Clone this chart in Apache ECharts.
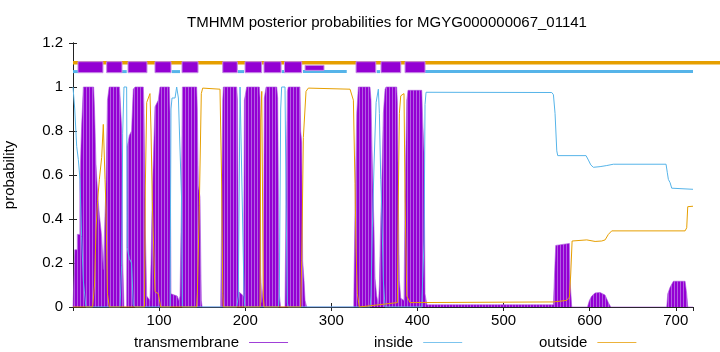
<!DOCTYPE html>
<html><head><meta charset="utf-8">
<script src="https://cdn.jsdelivr.net/npm/echarts@6/dist/echarts.min.js"></script>
<style>html,body{margin:0;padding:0;background:#fff}#c{width:720px;height:352px}</style>
</head><body><div id="c"></div>
<script>
// ---- data (residue, probability) ----
const titleText = 'TMHMM posterior probabilities for MGYG000000067_01141';
const seriesNames = ['transmembrane', 'inside', 'outside'];
const xRange = [0, 720];
const yRange = [0, 1.2];

const tmProb = [
[0,0],[1.9,0],[2,0.26],[5,0.26],[5,0.33],[8,0.33],[8,0.57],[10,0.57],[10,0.82],[12,0.82],[12,1.0],[24,1.0],[25,0.9],[26.7,0.65],[28.5,0.52],[30.6,0.42],[33.3,0.32],[35.2,0.17],[37.2,0.42],[38.3,0.55],[40,0.94],[42,1.0],[54,1.0],[54.6,0.96],[56.5,0.81],[57.7,0.21],[59.2,0],[62.3,0],[63,0.73],[65.4,0.78],[68,0.8],[70,0.99],[72,1.0],[81.7,1.0],[82.4,0.91],[84,0.35],[85.6,0.05],[89.4,0.03],[90.6,0.2],[92.1,0.52],[94.1,0.52],[95.2,0.91],[99,0.94],[101,1.0],[111.9,1.0],[112.7,0.88],[113.8,0.06],[121,0.05],[123,0.03],[124.3,0.05],[126,0.5],[127,1.0],[143.6,1.0],[144.4,0.9],[145.5,0.55],[147.5,0.5],[149,0.03],[150,0],[171.5,0],[172.7,0.45],[173.9,0.94],[174.6,1.0],[190.1,1.0],[191,0.94],[192.4,0.07],[198,0.05],[199,0.94],[201.7,1.0],[216.4,1.0],[217.2,0.95],[218,0.15],[219.2,0.02],[220.5,0.02],[221,0.1],[222.2,0.95],[224.2,1.0],[236.6,1.0],[237.7,0.95],[239.6,0.06],[241,0],[246.2,0],[247.4,0.5],[248.9,0.98],[250,1.0],[263.6,1.0],[264.4,0.8],[265.6,0.75],[266.7,0.21],[268.3,0.12],[269.5,0.03],[271.4,0],[326,0],[327.5,0.44],[329.5,0.88],[331.4,1.0],[344.9,1.0],[346.1,0.94],[347.6,0.65],[349.6,0.35],[350.8,0.13],[352.7,0.05],[354.7,0.01],[355.8,0.1],[357.4,0.4],[358.5,0.55],[360.4,0.88],[362.4,0.99],[363.5,1.0],[375.9,1.0],[376.7,0.93],[377.8,0.5],[379,0.12],[380.6,0.04],[384.4,0.03],[385.6,0.5],[387.6,0.94],[389,0.985],[405,0.985],[406.1,0.85],[407.7,0.7],[408.8,0.06],[411,0.01],[557.9,0.01],[559,0.13],[560.6,0.28],[561.8,0.289],[576.5,0.289],[577.2,0.12],[579.2,0],[597.4,0],[599.7,0.03],[602.4,0.05],[606.3,0.064],[612.1,0.066],[617.9,0.054],[621.7,0.02],[624.5,0],[689.5,0],[690.7,0.06],[693.4,0.09],[697.2,0.117],[710.8,0.117],[712.7,0.06],[713.9,0],[720,0]
];

const insideProb = [
[0,1.0],[1.2,1.0],[2,0.9],[4.3,0.73],[6.2,0.67],[8.1,0.58],[10,0.32],[12,0.12],[15,0],[54.6,0],[56.5,0.19],[57.7,0.79],[59.2,1.0],[62.3,1.0],[63,0.27],[65.4,0.22],[68,0.2],[70,0.01],[72,0],[112.7,0],[113.8,0.9],[115,0.95],[118.5,0.95],[120.4,1.0],[122.4,0.95],[124.3,0.95],[126,0.5],[127,0],[190.1,0],[192,0.05],[194,1.0],[195.9,1.0],[198.6,0.06],[199.5,0],[238.5,0],[239.6,0.05],[241.2,0.9],[242.3,1.0],[246.2,1.0],[247.4,0.5],[248.9,0.02],[250,0],[345,0],[346.1,0.05],[347.6,0.35],[349.6,0.65],[352,0.93],[354.6,0.99],[355.8,0.88],[357.4,0.58],[358.5,0.45],[360.4,0.12],[362.4,0],[405,0],[406.1,0.13],[407.7,0.3],[408.8,0.92],[410,0.976],[556,0.975],[557.9,0.965],[559.8,0.88],[561.8,0.71],[562.9,0.688],[595.8,0.688],[598.5,0.668],[601.3,0.646],[604.3,0.635],[612.1,0.638],[619.9,0.643],[627.5,0.649],[688.7,0.649],[690.2,0.61],[691.4,0.58],[693.4,0.565],[695.3,0.54],[697.2,0.535],[720,0.535]
];

const outsideProb = [
[0,0],[22.8,0],[25,0.1],[26.7,0.35],[28.5,0.48],[30.6,0.58],[33.3,0.68],[35.2,0.83],[37.2,0.58],[38.3,0.45],[40,0.06],[42.2,0],[83,0],[84,0.55],[85.6,0.93],[89.4,0.97],[90.6,0.8],[92.1,0.48],[94.1,0.48],[95.2,0.07],[99.1,0.06],[101.8,0],[143.6,0],[144.4,0.06],[146.7,0.46],[149,0.97],[150.6,0.995],[170.7,0.99],[172.7,0.55],[173.9,0.06],[174.6,0],[217.2,0],[218,0.85],[219.2,0.98],[220.5,0.98],[221,0.05],[222,0],[264.4,0],[265.6,0.21],[267.5,0.77],[270.6,0.98],[273.3,0.995],[321.7,0.99],[323.7,0.985],[325.6,0.94],[327.5,0.56],[328.7,0.26],[330.2,0.06],[332.5,0],[376.7,0.02],[377.8,0.5],[379,0.88],[380.6,0.96],[384.4,0.97],[385.6,0.5],[387.6,0.05],[391.4,0.02],[557.9,0.023],[573.4,0.03],[576.5,0.045],[578,0.15],[579.6,0.3],[581.1,0.307],[596.6,0.305],[606.3,0.298],[614,0.3],[617.9,0.305],[621.7,0.33],[625.6,0.346],[710.8,0.346],[712.7,0.36],[713.9,0.456],[720,0.458]
];

// predicted topology (residue ranges) and their levels
const topoOutsideSegments = [[0, 760]];
const topoInsideSegments = [[0,6.2],[56.6,62.4],[114.6,124.3],[191.6,198.6],[242.4,246.2],[267.1,317.9],[352.7,356.6],[408.8,720]];
const topoTmSegments = [[5.8,34.8],[39.1,56.9],[63.9,85.9],[95.2,113.8],[126.6,145.2],[173.9,190.8],[199.8,219.1],[221.8,241.6],[245.6,265.6],[328.7,351.6],[357.7,380.6],[385.6,408.8]];
const topoTmThinSegments = [[269.5,291.5]];
const levelOutside = 1.11, levelTm = 1.09, levelInside = 1.07, levelTmThin = 1.087;

// ---- chart ----
const FONT = 'Liberation Sans';
const C_TM = '#9400D3', C_IN = '#56B4E9', C_OUT = '#E69F00';

function stripes() {
  const c = document.createElement('canvas');
  c.width = 3; c.height = 1;
  const g = c.getContext('2d');
  g.fillStyle = C_TM; g.fillRect(0, 0, 2, 1);
  g.fillStyle = '#b25ce2'; g.fillRect(2, 0, 1, 1);
  return c;
}

function segSeries(name, segs, level, h, color, stroke, clip, z) {
  return {
    type: 'custom', name: name, z: z, clip: clip, silent: true,
    data: segs.map(s => [s[0], s[1], level]),
    encode: { x: [0, 1], y: 2 },
    renderItem: function (params, api) {
      const a = api.coord([api.value(0), api.value(2)]);
      const b = api.coord([api.value(1), api.value(2)]);
      return {
        type: 'rect',
        shape: { x: a[0], y: a[1] - h / 2, width: b[0] - a[0], height: h },
        style: stroke ? { fill: color, stroke: stroke, lineWidth: 1 } : { fill: color }
      };
    }
  };
}

const chart = echarts.init(document.getElementById('c'), null, { renderer: 'canvas' });
const axisCommon = {
  axisLine: { show: true, lineStyle: { color: '#222', width: 1 } },
  axisTick: { show: true, inside: true, length: 4, lineStyle: { color: '#222' } },
  splitLine: { show: false }
};
const legendCommon = {
  top: 335, itemWidth: 39, itemHeight: 1.2, align: 'right', selectedMode: false, padding: 0,
  textStyle: { fontFamily: FONT, fontSize: 15, color: '#000', padding: [0, 5, 0, 0] }
};

chart.setOption({
  animation: false,
  backgroundColor: '#fff',
  title: {
    text: titleText, left: 382, top: 10, textAlign: 'center',
    textStyle: { fontFamily: FONT, fontSize: 15, fontWeight: 'normal', color: '#000' }
  },
  grid: { left: 73, right: 27, top: 43, bottom: 45, containLabel: false, outerBoundsMode: 'none' },
  legend: [
    Object.assign({ left: 134, data: [{ name: seriesNames[0], icon: 'rect', itemStyle: { color: '#a040d8' } }] }, legendCommon),
    Object.assign({ left: 374, data: [{ name: seriesNames[1], icon: 'rect', itemStyle: { color: '#7cc4ee' } }] }, legendCommon),
    Object.assign({ left: 539, data: [{ name: seriesNames[2], icon: 'rect', itemStyle: { color: '#ecb23a' } }] }, legendCommon)
  ],
  xAxis: [
    Object.assign({
      type: 'value', min: xRange[0], max: xRange[1], interval: 100, position: 'bottom',
      axisLabel: { showMinLabel: false, showMaxLabel: false, margin: 6, fontFamily: FONT, fontSize: 15, color: '#000' }
    }, axisCommon),
    Object.assign({
      type: 'value', min: xRange[0], max: xRange[1], interval: 100, position: 'top',
      axisLabel: { show: false }
    }, axisCommon)
  ],
  yAxis: [
    Object.assign({
      type: 'value', min: yRange[0], max: yRange[1], interval: 0.2, position: 'left',
      name: 'probability', nameLocation: 'middle', nameGap: 56,
      nameTextStyle: { fontFamily: FONT, fontSize: 15, color: '#000' },
      axisLabel: { margin: 10, fontFamily: FONT, fontSize: 15, color: '#000',
        formatter: v => String(Math.round(v * 10) / 10) }
    }, axisCommon),
    Object.assign({
      type: 'value', min: yRange[0], max: yRange[1], interval: 0.2, position: 'right',
      axisLabel: { show: false }
    }, axisCommon)
  ],
  series: [
    {
      type: 'line', name: seriesNames[0], data: tmProb, z: 1, symbol: 'none', silent: true,
      itemStyle: { color: C_TM },
      lineStyle: { width: 0.6, color: '#a850dc' },
      areaStyle: { color: { image: stripes(), repeat: 'repeat' }, opacity: 1 }
    },
    {
      type: 'line', name: seriesNames[1], data: insideProb, z: 2, symbol: 'none', silent: true,
      itemStyle: { color: C_IN }, lineStyle: { width: 1, color: C_IN }
    },
    {
      type: 'line', name: seriesNames[2], data: outsideProb, z: 3, symbol: 'none', silent: true,
      itemStyle: { color: C_OUT }, lineStyle: { width: 1, color: C_OUT }
    },
    segSeries('topoOut', topoOutsideSegments, levelOutside, 3.5, C_OUT, null, false, 4),
    segSeries('topoIn', topoInsideSegments, levelInside, 3, C_IN, null, true, 5),
    segSeries('topoTm', topoTmSegments, levelTm, 11, C_TM, '#c58ae6', true, 6),
    segSeries('topoTmThin', topoTmThinSegments, levelTmThin, 5, C_TM, '#c58ae6', true, 6)
  ]
});
</script></body></html>
